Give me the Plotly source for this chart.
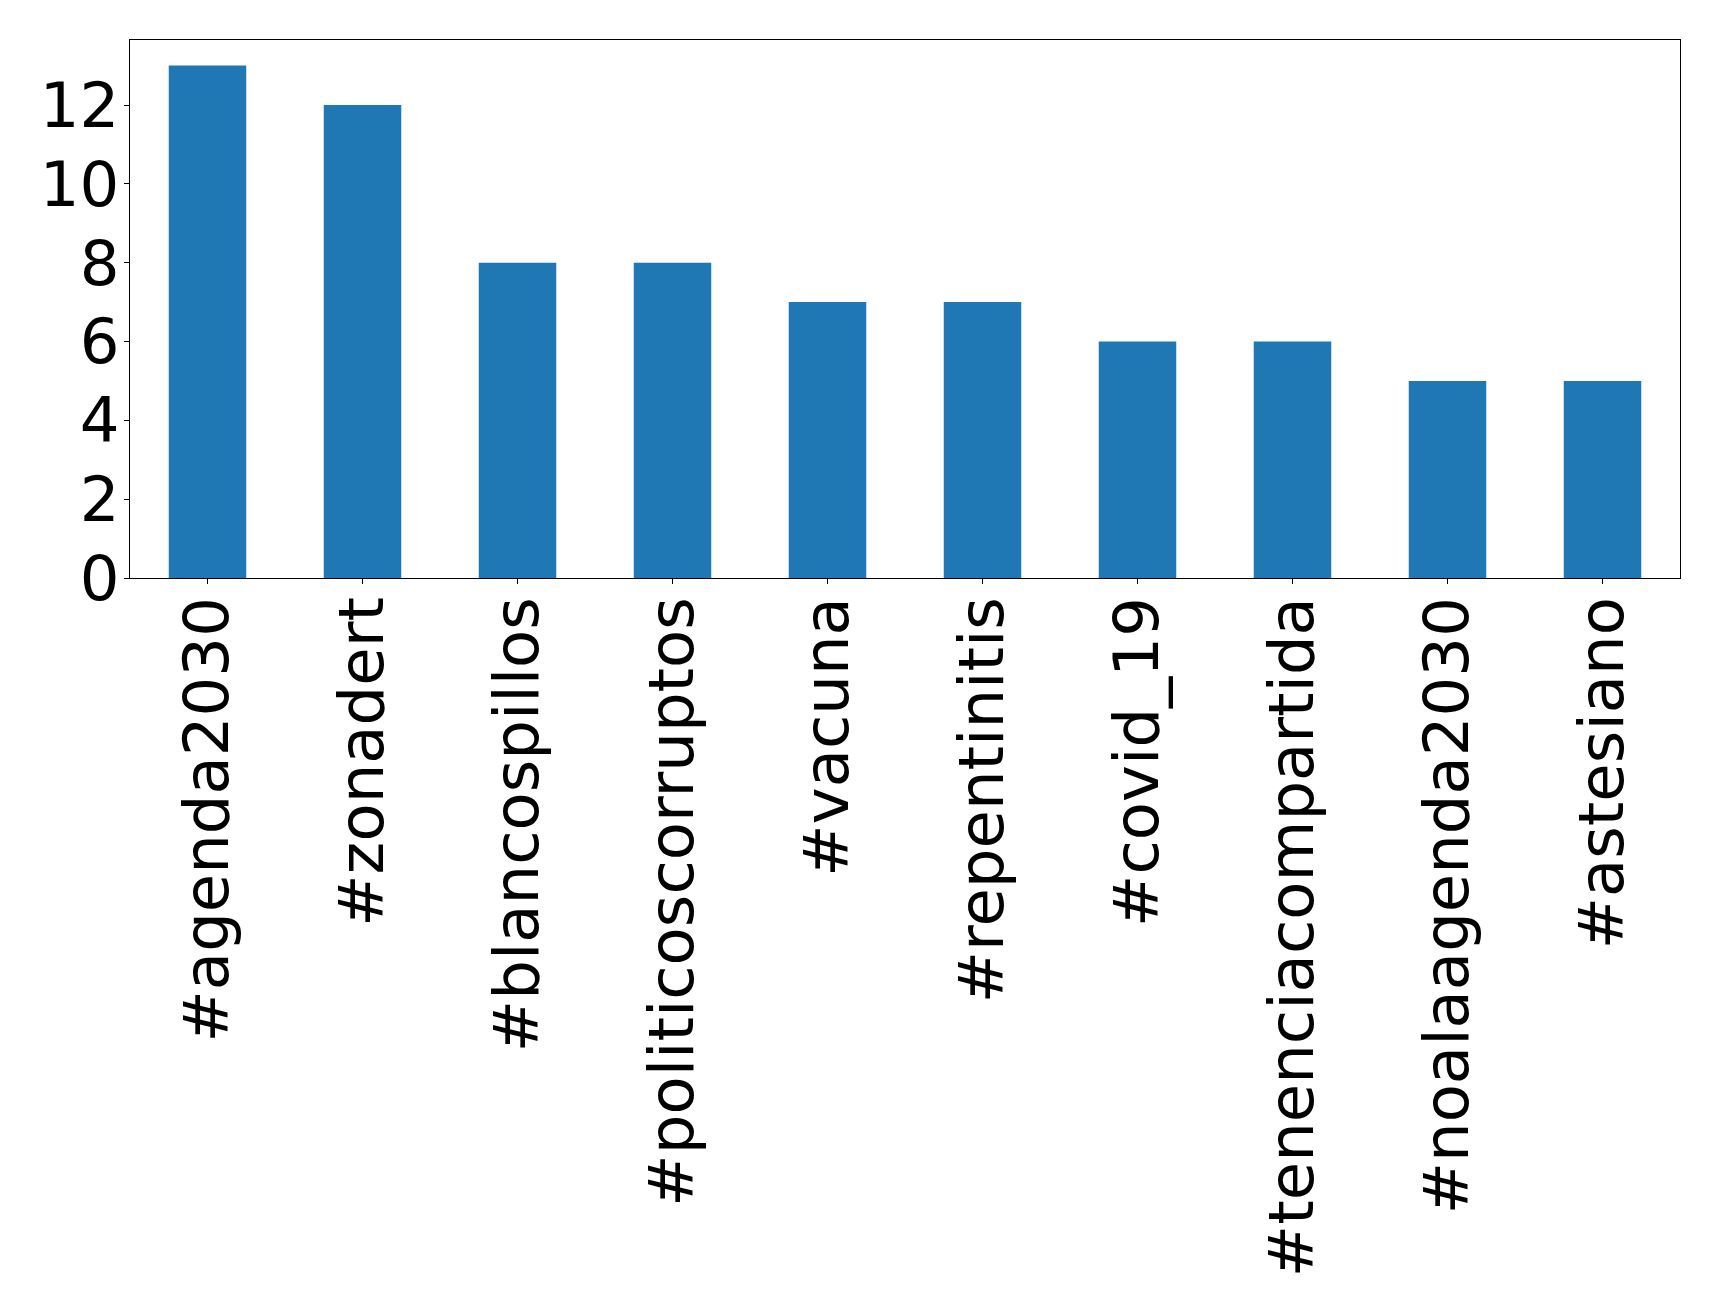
import plotly.graph_objects as go

categories = ["#agenda2030", "#zonadert", "#blancospillos", "#politicoscorruptos",
              "#vacuna", "#repentinitis", "#covid_19", "#tenenciacompartida",
              "#noalaagenda2030", "#astesiano"]
counts = [13, 12, 8, 8, 7, 7, 6, 6, 5, 5]
y_ticks = [0, 2, 4, 6, 8, 10, 12]

fig = go.Figure(go.Bar(
    x=list(range(len(categories))), y=counts,
    marker=dict(color="#1f77b4", line=dict(width=0)),
    width=0.5,
))

font = dict(family="DejaVu Sans", size=62.5, color="black")
fig.update_layout(
    width=1719, height=1308,
    margin=dict(l=121.5, r=47.3, t=31.5, b=738, autoexpand=False),
    paper_bgcolor="white", plot_bgcolor="white",
    showlegend=False,
    font=font,
)
fig.update_xaxes(
    range=[-0.5, len(categories) - 0.5],
    tickmode="array", tickvals=list(range(len(categories))), ticktext=categories,
    tickangle=-90, ticks="outside", ticklen=5, tickcolor="black", tickwidth=1.2,
    showline=True, linecolor="black", linewidth=1.2, mirror=True,
    showgrid=False, zeroline=False, tickfont=font, automargin=False,
    ticklabelstandoff=-12,
)
fig.update_yaxes(
    range=[0, 13.65],
    tickmode="array", tickvals=y_ticks, ticktext=[str(v) for v in y_ticks],
    ticks="outside", ticklen=5, tickcolor="black", tickwidth=1.2,
    showline=True, linecolor="black", linewidth=1.2, mirror=True,
    showgrid=False, zeroline=False, tickfont=font, automargin=False,
    ticklabelstandoff=-8,
)
fig.write_html("out.html")
